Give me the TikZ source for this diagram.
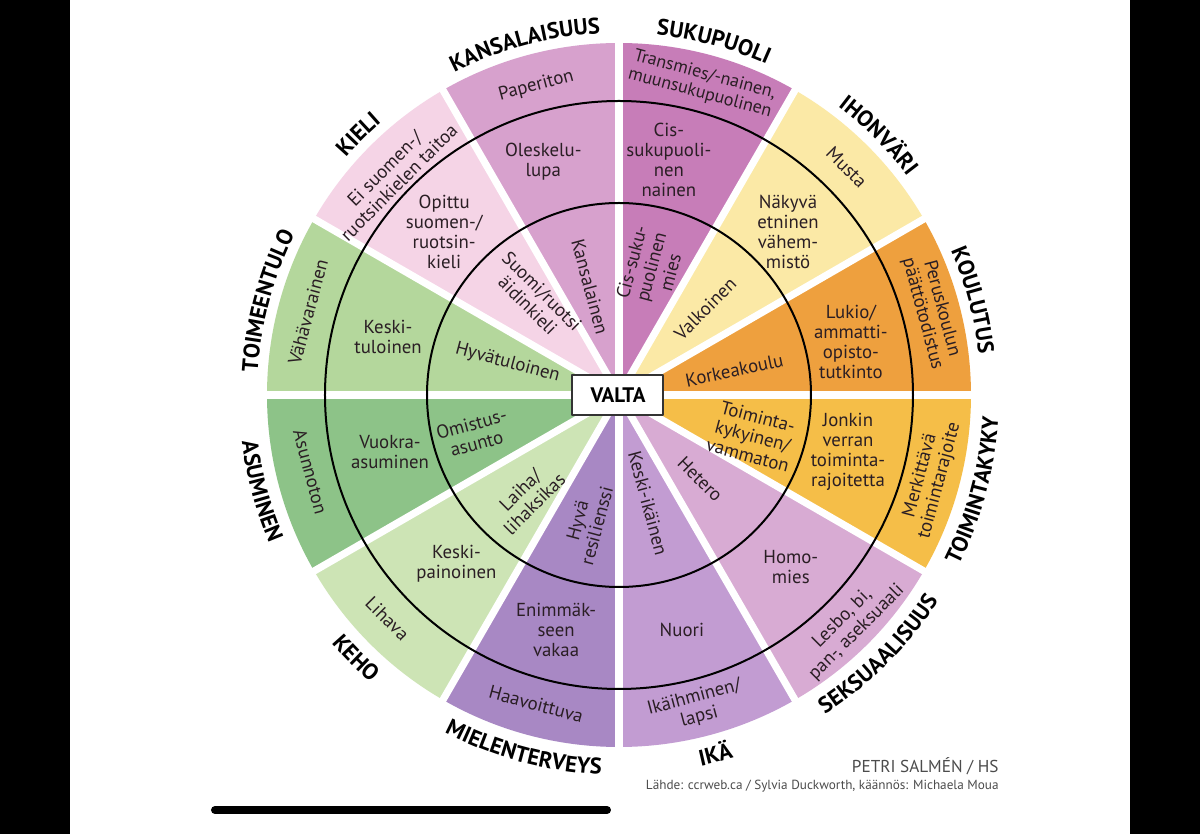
\documentclass[tikz,border=0pt]{standalone}
\usepackage{fontspec}
\setmainfont{PT Sans}
\usetikzlibrary{decorations.text}
\definecolor{ink}{HTML}{2A1E24}
\definecolor{kansa}{HTML}{D7A1CD}
\definecolor{suku}{HTML}{C77DB8}
\definecolor{iho}{HTML}{FBE9A6}
\definecolor{koulu}{HTML}{EEA03E}
\definecolor{kyky}{HTML}{F5BE48}
\definecolor{seksu}{HTML}{D8ABD3}
\definecolor{ika}{HTML}{C29CD2}
\definecolor{mieli}{HTML}{A888C4}
\definecolor{keho}{HTML}{CDE4B5}
\definecolor{asu}{HTML}{8DC388}
\definecolor{tulo}{HTML}{B4D79C}
\definecolor{kieli}{HTML}{F5D4E6}
\newcommand\katfont{\bfseries\fontsize{11.3}{12}\selectfont\addfontfeature{LetterSpace=5}}
\begin{document}
\begin{tikzpicture}[x=0.5pt,y=0.5pt,line join=round,line cap=round,
	ring/.style={font=\fontsize{9.4}{10}\selectfont,align=center,text=ink,inner sep=0pt},
	gap/.style={white,line width=3.6pt,line cap=butt},
	ringline/.style={black,line width=1pt},
	catlabel/.style={decorate,decoration={text along path,text align=center,text={|\katfont|#1}}},
	credit/.style={font=\fontsize{8.6}{9}\selectfont,text=black!70,inner sep=0pt,anchor=base east}]
	\def\R{352} \def\ra{192} \def\rb{294}
	\useasboundingbox (-619,-439) rectangle (581,395);
	\fill[white] (-619,-439) rectangle (581,395);
	% sektorit
	\fill[suku] (0,0)--(90:\R) arc[start angle=90,end angle=60,radius=\R]--cycle;
	\fill[iho] (0,0)--(60:\R) arc[start angle=60,end angle=30,radius=\R]--cycle;
	\fill[koulu] (0,0)--(30:\R) arc[start angle=30,end angle=0,radius=\R]--cycle;
	\fill[kyky] (0,0)--(0:\R) arc[start angle=0,end angle=-30,radius=\R]--cycle;
	\fill[seksu] (0,0)--(-30:\R) arc[start angle=-30,end angle=-60,radius=\R]--cycle;
	\fill[ika] (0,0)--(-60:\R) arc[start angle=-60,end angle=-90,radius=\R]--cycle;
	\fill[mieli] (0,0)--(-90:\R) arc[start angle=-90,end angle=-120,radius=\R]--cycle;
	\fill[keho] (0,0)--(-120:\R) arc[start angle=-120,end angle=-150,radius=\R]--cycle;
	\fill[asu] (0,0)--(-150:\R) arc[start angle=-150,end angle=-180,radius=\R]--cycle;
	\fill[tulo] (0,0)--(180:\R) arc[start angle=180,end angle=150,radius=\R]--cycle;
	\fill[kieli] (0,0)--(150:\R) arc[start angle=150,end angle=120,radius=\R]--cycle;
	\fill[kansa] (0,0)--(120:\R) arc[start angle=120,end angle=90,radius=\R]--cycle;
	% valkoiset raot
	\draw[gap] (90:360)--(-90:360);
	\draw[gap] (60:360)--(-120:360);
	\draw[gap] (30:360)--(-150:360);
	\draw[gap] (0:360)--(180:360);
	\draw[gap] (-30:360)--(150:360);
	\draw[gap] (-60:360)--(120:360);
	\draw[ringline] (0,0) circle[radius=\ra];
	\draw[ringline] (0,0) circle[radius=\rb];
	% kansalaisuus
	\node[ring,rotate=-75] (kansalainen) at (105:112) {Kansalainen};
	\node[ring] (oleskelulupa) at (108:245) {Oleskelu-\\lupa};
	\node[ring,rotate=15] (paperiton) at (105:320) {Paperiton};
	% sukupuoli
	\node[ring,rotate=75] (cismies) at (76:132) {Cis-suku-\\puolinen\\mies};
	\node[ring] (cisnainen) at (78:240) {Cis-\\sukupuoli-\\nen\\nainen};
	\node[ring,rotate=-15,font=\fontsize{9}{9.6}\selectfont] (trans) at (75:322) {Transmies/-nainen,\\muunsukupuolinen};
	% ihonvari
	\node[ring,rotate=45] (valkoinen) at (45:122) {Valkoinen};
	\node[ring] (vahemmisto) at (44:235) {Näkyvä\\etninen\\vähem-\\mistö};
	\node[ring,rotate=-45] (musta) at (45:322) {Musta};
	% koulutus
	\node[ring,rotate=12] (korkeakoulu) at (12:118) {Korkeakoulu};
	\node[ring] (lukio) at (13:238) {Lukio/\\ammatti-\\opisto-\\tutkinto};
	\node[ring,rotate=-75] (peruskoulu) at (15:324) {Peruskoulun\\päättötodistus};
	% toimintakyky
	\node[ring,rotate=-15] (vammaton) at (-17:140) {Toiminta-\\kykyinen/\\vammaton};
	\node[ring] (jonkin) at (-14:236) {Jonkin\\verran\\toiminta-\\rajoitetta};
	\node[ring,rotate=75] (merkittava) at (-15:322) {Merkittävä\\toimintarajoite};
	% seksuaalisuus
	\node[ring,rotate=-45] (hetero) at (-46:117) {Hetero};
	\node[ring] (homomies) at (-45:243) {Homo-\\mies};
	\node[ring,rotate=45] (lesbo) at (-45:326) {Lesbo, bi,\\pan-, aseksuaali};
	% ika
	\node[ring,rotate=-75] (keskiikainen) at (-75:112) {Keski-ikäinen};
	\node[ring] (nuori) at (-75:243) {Nuori};
	\node[ring,rotate=15] (ikaihminen) at (-76:322) {Ikäihminen/\\lapsi};
	% mielenterveys
	\node[ring,rotate=75] (resilienssi) at (-104:132) {Hyvä\\resilienssi};
	\node[ring] (vakaa) at (-105:243) {Enimmäk-\\seen\\vakaa};
	\node[ring,rotate=-15] (haavoittuva) at (-105:320) {Haavoittuva};
	% keho
	\node[ring,rotate=45] (laiha) at (-132:137) {Laiha/\\lihaksikas};
	\node[ring] (keskipainoinen) at (-134:234) {Keski-\\painoinen};
	\node[ring,rotate=-45] (lihava) at (-136:322) {Lihava};
	% asuminen
	\node[ring,rotate=15] (omistus) at (-165:150) {Omistus-\\asunto};
	\node[ring] (vuokra) at (-166:236) {Vuokra-\\asuminen};
	\node[ring,rotate=-75] (asunnoton) at (-166:318) {Asunnoton};
	% toimeentulo
	\node[ring,rotate=-15] (hyvatuloinen) at (164:116) {Hyvätuloinen};
	\node[ring] (keskituloinen) at (166:238) {Keski-\\tuloinen};
	\node[ring,rotate=75] (vahavarainen) at (165:322) {Vähävarainen};
	% kieli
	\node[ring,rotate=-45] (aidinkieli) at (131:128) {Suomi/ruotsi\\äidinkieli};
	\node[ring] (opittu) at (137:239) {Opittu\\suomen-/\\ruotsin-\\kieli};
	\node[ring,rotate=45] (eitaitoa) at (136:316) {Ei suomen-/\\ruotsinkielen taitoa};
	% keskusta
	\node[draw=black!80,line width=1pt,fill=white,minimum width=45.5pt,minimum height=20pt,
		font=\bfseries\fontsize{10.5}{11}\selectfont] (valta) at (-1,0) {VALTA};
	% otsikot kehan ulkopuolella
	\path[catlabel={KANSALAISUUS}] (130:362) arc[start angle=130,end angle=80,radius=362];
	\path[catlabel={SUKUPUOLI}] (100:362) arc[start angle=100,end angle=50,radius=362];
	\path[catlabel={IHONVÄRI}] (70:362) arc[start angle=70,end angle=20,radius=362];
	\path[catlabel={KOULUTUS}] (40:362) arc[start angle=40,end angle=-10,radius=362];
	\path[catlabel={TOIMEENTULO}] (190:362) arc[start angle=190,end angle=140,radius=362];
	\path[catlabel={KIELI}] (160:362) arc[start angle=160,end angle=110,radius=362];
	\path[catlabel={TOIMINTAKYKY}] (-40:380) arc[start angle=-40,end angle=10,radius=380];
	\path[catlabel={SEKSUAALISUUS}] (-70:380) arc[start angle=-70,end angle=-20,radius=380];
	\path[catlabel={IKÄ}] (-100:380) arc[start angle=-100,end angle=-50,radius=380];
	\path[catlabel={MIELENTERVEYS}] (-130:380) arc[start angle=-130,end angle=-80,radius=380];
	\path[catlabel={KEHO}] (-160:380) arc[start angle=-160,end angle=-110,radius=380];
	\path[catlabel={ASUMINEN}] (170:380) arc[start angle=170,end angle=220,radius=380];
	% lahteet
	\node[credit] (tekija) at (380,-378) {PETRI SALMÉN / HS};
	\node[credit,font=\fontsize{6.6}{8}\selectfont] (lahde) at (380,-395) {Lähde: ccrweb.ca / Sylvia Duckworth, käännös: Michaela Moua};
	% puhelimen reunat
	\fill[black] (-619,-439) rectangle (-549,395);
	\fill[black] (511,-439) rectangle (581,395);
	\draw[black,line width=4pt] (-404,-415)--(-12,-415);
\end{tikzpicture}
\end{document}
